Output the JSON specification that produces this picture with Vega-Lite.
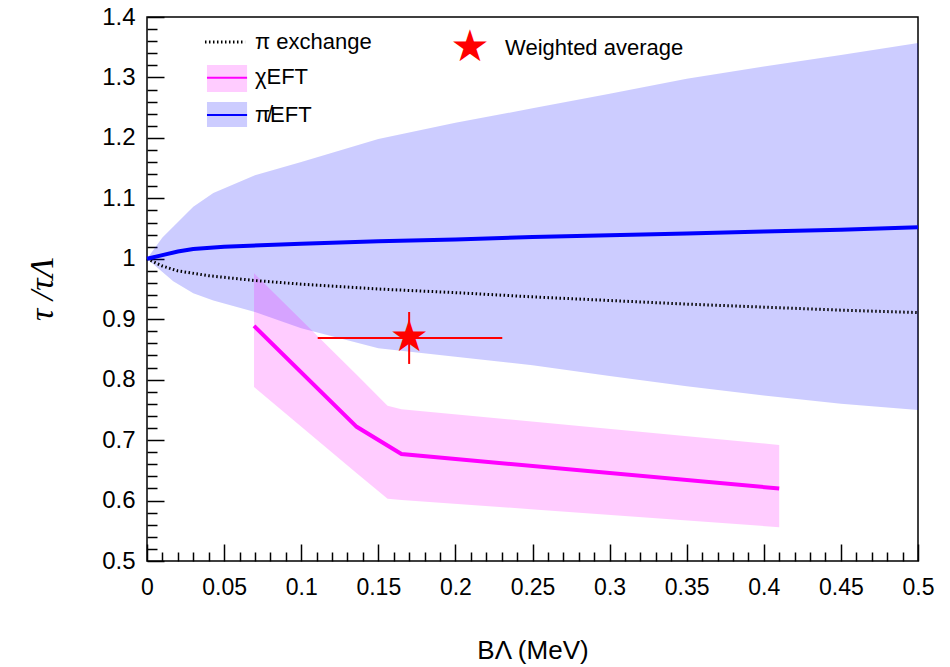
{
  "$schema": "https://vega.github.io/schema/vega-lite/v6.json",
  "width": 771,
  "height": 544,
  "autosize": {"type": "none"},
  "padding": {"left": 147, "top": 17, "right": 32, "bottom": 106},
  "background": "white",
  "config": {
    "view": {"stroke": "black", "strokeWidth": 1.5},
    "font": "Liberation Sans",
    "axis": {"grid": false, "domain": false, "tickColor": "black", "labelColor": "black", "titleColor": "black"}
  },
  "datasets": {
    "pionless": [
      {"x": 0, "lo": 1.0, "hi": 1.0},
      {"x": 0.01, "lo": 0.978, "hi": 1.035},
      {"x": 0.017, "lo": 0.963, "hi": 1.053},
      {"x": 0.03, "lo": 0.943, "hi": 1.086},
      {"x": 0.043, "lo": 0.931, "hi": 1.109},
      {"x": 0.07, "lo": 0.912, "hi": 1.138},
      {"x": 0.1, "lo": 0.885, "hi": 1.16},
      {"x": 0.15, "lo": 0.852, "hi": 1.198},
      {"x": 0.2, "lo": 0.838, "hi": 1.225},
      {"x": 0.25, "lo": 0.824, "hi": 1.249},
      {"x": 0.3, "lo": 0.806, "hi": 1.273},
      {"x": 0.35, "lo": 0.789, "hi": 1.298},
      {"x": 0.4, "lo": 0.774, "hi": 1.318},
      {"x": 0.45, "lo": 0.76, "hi": 1.337},
      {"x": 0.5, "lo": 0.75, "hi": 1.357}
    ],
    "chieft": [
      {"x": 0.0694, "lo": 0.788, "hi": 0.976},
      {"x": 0.136, "lo": 0.645, "hi": 0.808},
      {"x": 0.156, "lo": 0.603, "hi": 0.757},
      {"x": 0.165, "lo": 0.601, "hi": 0.751},
      {"x": 0.41, "lo": 0.556, "hi": 0.692}
    ],
    "piexchange": [
      {"x": 0, "y": 1.0},
      {"x": 0.01, "y": 0.988},
      {"x": 0.02, "y": 0.98},
      {"x": 0.04, "y": 0.972},
      {"x": 0.07, "y": 0.964},
      {"x": 0.1, "y": 0.958},
      {"x": 0.15, "y": 0.95},
      {"x": 0.2, "y": 0.944},
      {"x": 0.25, "y": 0.937},
      {"x": 0.3, "y": 0.931},
      {"x": 0.35, "y": 0.925},
      {"x": 0.4, "y": 0.92},
      {"x": 0.45, "y": 0.915},
      {"x": 0.5, "y": 0.911}
    ],
    "chiline": [
      {"x": 0.0694, "y": 0.889},
      {"x": 0.136, "y": 0.722},
      {"x": 0.165, "y": 0.677},
      {"x": 0.41, "y": 0.62}
    ],
    "nopiline": [
      {"x": 0, "y": 1.0},
      {"x": 0.01, "y": 1.006},
      {"x": 0.02, "y": 1.012},
      {"x": 0.03, "y": 1.016},
      {"x": 0.05, "y": 1.02},
      {"x": 0.1, "y": 1.025},
      {"x": 0.15, "y": 1.029},
      {"x": 0.2, "y": 1.032},
      {"x": 0.25, "y": 1.036},
      {"x": 0.3, "y": 1.039},
      {"x": 0.35, "y": 1.042},
      {"x": 0.4, "y": 1.045},
      {"x": 0.45, "y": 1.048},
      {"x": 0.5, "y": 1.052}
    ],
    "avg": [
      {"label": "Weighted average", "x": 0.17, "y": 0.869, "xlo": 0.1107, "xhi": 0.2304, "ylo": 0.826, "yhi": 0.912}
    ]
  },
  "layer": [
    {
      "data": {"name": "pionless"},
      "mark": {"type": "area", "color": "#0000ff", "fillOpacity": 0.2},
      "encoding": {
        "x": {
          "field": "x", "type": "quantitative",
          "scale": {"domain": [0, 0.5], "nice": false, "zero": false},
          "axis": {
            "orient": "bottom",
            "values": [0, 0.05, 0.1, 0.15, 0.2, 0.25, 0.3, 0.35, 0.4, 0.45, 0.5],
            "labelExpr": "'' + datum.value",
            "tickSize": -17, "tickWidth": 1.5,
            "labelFontSize": 23, "labelPadding": 32, "labelFlush": false,
            "title": "BΛ (MeV)", "titleFontSize": 26, "titleFontWeight": "normal", "titlePadding": 38
          }
        },
        "y": {
          "field": "lo", "type": "quantitative",
          "scale": {"domain": [0.5, 1.4], "nice": false, "zero": false},
          "axis": {
            "orient": "left",
            "values": [0.5, 0.6, 0.7, 0.8, 0.9, 1, 1.1, 1.2, 1.3, 1.4],
            "labelExpr": "'' + datum.value",
            "tickSize": -17, "tickWidth": 1.5,
            "labelFontSize": 24, "labelPadding": 29, "labelFlush": false,
            "title": "τ /τΛ", "titleFont": "Liberation Serif", "titleFontStyle": "italic",
            "titleFontSize": 34, "titleFontWeight": "normal", "titlePadding": 42
          }
        },
        "y2": {"field": "hi"}
      }
    },
    {
      "data": {"name": "chieft"},
      "mark": {"type": "area", "color": "#ff00ff", "fillOpacity": 0.2},
      "encoding": {
        "x": {
          "field": "x", "type": "quantitative",
          "axis": {
            "orient": "bottom",
            "values": [0.01, 0.02, 0.03, 0.04, 0.06, 0.07, 0.08, 0.09, 0.11, 0.12, 0.13, 0.14, 0.16, 0.17, 0.18, 0.19, 0.21, 0.22, 0.23, 0.24, 0.26, 0.27, 0.28, 0.29, 0.31, 0.32, 0.33, 0.34, 0.36, 0.37, 0.38, 0.39, 0.41, 0.42, 0.43, 0.44, 0.46, 0.47, 0.48, 0.49],
            "tickSize": -9, "tickWidth": 1.5, "labels": false, "title": null
          }
        },
        "y": {
          "field": "lo", "type": "quantitative",
          "axis": {
            "orient": "left",
            "values": [0.52, 0.54, 0.56, 0.58, 0.62, 0.64, 0.66, 0.68, 0.72, 0.74, 0.76, 0.78, 0.82, 0.84, 0.86, 0.88, 0.92, 0.94, 0.96, 0.98, 1.02, 1.04, 1.06, 1.08, 1.12, 1.14, 1.16, 1.18, 1.22, 1.24, 1.26, 1.28, 1.32, 1.34, 1.36, 1.38],
            "tickSize": -10, "tickWidth": 1.5, "labels": false, "title": null
          }
        },
        "y2": {"field": "hi"}
      }
    },
    {
      "data": {"name": "piexchange"},
      "mark": {"type": "line", "color": "#000000", "strokeWidth": 3, "strokeDash": [1.5, 2.5]},
      "encoding": {
        "x": {"field": "x", "type": "quantitative", "axis": null},
        "y": {"field": "y", "type": "quantitative", "axis": null}
      }
    },
    {
      "data": {"name": "nopiline"},
      "mark": {"type": "line", "color": "#0000ff", "strokeWidth": 4},
      "encoding": {
        "x": {"field": "x", "type": "quantitative", "axis": null},
        "y": {"field": "y", "type": "quantitative", "axis": null}
      }
    },
    {
      "data": {"name": "chiline"},
      "mark": {"type": "line", "color": "#ff00ff", "strokeWidth": 4},
      "encoding": {
        "x": {"field": "x", "type": "quantitative", "axis": null},
        "y": {"field": "y", "type": "quantitative", "axis": null}
      }
    },
    {
      "data": {"name": "avg"},
      "mark": {"type": "rule", "color": "#ff0000", "strokeWidth": 2},
      "encoding": {
        "x": {"field": "xlo", "type": "quantitative", "axis": null},
        "x2": {"field": "xhi"},
        "y": {"field": "y", "type": "quantitative", "axis": null}
      }
    },
    {
      "data": {"name": "avg"},
      "mark": {"type": "rule", "color": "#ff0000", "strokeWidth": 2},
      "encoding": {
        "x": {"field": "x", "type": "quantitative", "axis": null},
        "y": {"field": "ylo", "type": "quantitative", "axis": null},
        "y2": {"field": "yhi"}
      }
    },
    {
      "data": {"name": "avg"},
      "mark": {"type": "text", "text": "★", "color": "#ff0000", "fontSize": 44, "baseline": "middle", "align": "center", "font": "DejaVu Sans"},
      "encoding": {
        "x": {"field": "x", "type": "quantitative", "axis": null},
        "y": {"field": "y", "type": "quantitative", "axis": null}
      }
    },
    {
      "data": {"values": [{"label": "π exchange"}]},
      "mark": {"type": "rule", "color": "#000000", "strokeWidth": 3, "strokeDash": [1.5, 2.5]},
      "encoding": {
        "x": {"datum": 0.0376, "type": "quantitative", "axis": null},
        "x2": {"datum": 0.0636},
        "y": {"datum": 1.3586, "type": "quantitative", "axis": null}
      }
    },
    {
      "data": {"values": [{"label": "π exchange"}]},
      "mark": {"type": "text", "fontSize": 22, "baseline": "middle", "align": "left", "color": "#000000"},
      "encoding": {
        "x": {"datum": 0.07, "type": "quantitative", "axis": null},
        "y": {"datum": 1.3586, "type": "quantitative", "axis": null},
        "text": {"field": "label"}
      }
    },
    {
      "data": {"values": [{"label": "χEFT"}]},
      "mark": {"type": "rect", "color": "#ff00ff", "fillOpacity": 0.2},
      "encoding": {
        "x": {"datum": 0.0389, "type": "quantitative", "axis": null},
        "x2": {"datum": 0.0649},
        "y": {"datum": 1.2759, "type": "quantitative", "axis": null},
        "y2": {"datum": 1.3206}
      }
    },
    {
      "data": {"values": [{"label": "χEFT"}]},
      "mark": {"type": "rule", "color": "#ff00ff", "strokeWidth": 2},
      "encoding": {
        "x": {"datum": 0.0389, "type": "quantitative", "axis": null},
        "x2": {"datum": 0.0649},
        "y": {"datum": 1.2995, "type": "quantitative", "axis": null}
      }
    },
    {
      "data": {"values": [{"label": "χEFT"}]},
      "mark": {"type": "text", "fontSize": 22, "baseline": "middle", "align": "left", "color": "#000000"},
      "encoding": {
        "x": {"datum": 0.07, "type": "quantitative", "axis": null},
        "y": {"datum": 1.3, "type": "quantitative", "axis": null},
        "text": {"field": "label"}
      }
    },
    {
      "data": {"values": [{"label": "π̸EFT"}]},
      "mark": {"type": "rect", "color": "#0000ff", "fillOpacity": 0.2},
      "encoding": {
        "x": {"datum": 0.0389, "type": "quantitative", "axis": null},
        "x2": {"datum": 0.0649},
        "y": {"datum": 1.218, "type": "quantitative", "axis": null},
        "y2": {"datum": 1.2594}
      }
    },
    {
      "data": {"values": [{"label": "π̸EFT"}]},
      "mark": {"type": "rule", "color": "#0000ff", "strokeWidth": 2},
      "encoding": {
        "x": {"datum": 0.0389, "type": "quantitative", "axis": null},
        "x2": {"datum": 0.0649},
        "y": {"datum": 1.2379, "type": "quantitative", "axis": null}
      }
    },
    {
      "data": {"values": [{"label": "π̸EFT"}]},
      "mark": {"type": "text", "fontSize": 22, "baseline": "middle", "align": "left", "color": "#000000"},
      "encoding": {
        "x": {"datum": 0.07, "type": "quantitative", "axis": null},
        "y": {"datum": 1.2379, "type": "quantitative", "axis": null},
        "text": {"field": "label"}
      }
    },
    {
      "data": {"values": [{"label": "★"}]},
      "mark": {"type": "text", "fontSize": 44, "baseline": "middle", "align": "center", "color": "#ff0000", "font": "DejaVu Sans"},
      "encoding": {
        "x": {"datum": 0.2095, "type": "quantitative", "axis": null},
        "y": {"datum": 1.3487, "type": "quantitative", "axis": null},
        "text": {"field": "label"}
      }
    },
    {
      "data": {"values": [{"label": "Weighted average"}]},
      "mark": {"type": "text", "fontSize": 22, "baseline": "middle", "align": "left", "color": "#000000"},
      "encoding": {
        "x": {"datum": 0.2322, "type": "quantitative", "axis": null},
        "y": {"datum": 1.3487, "type": "quantitative", "axis": null},
        "text": {"field": "label"}
      }
    }
  ],
  "resolve": {"axis": {"x": "independent", "y": "independent"}}
}
